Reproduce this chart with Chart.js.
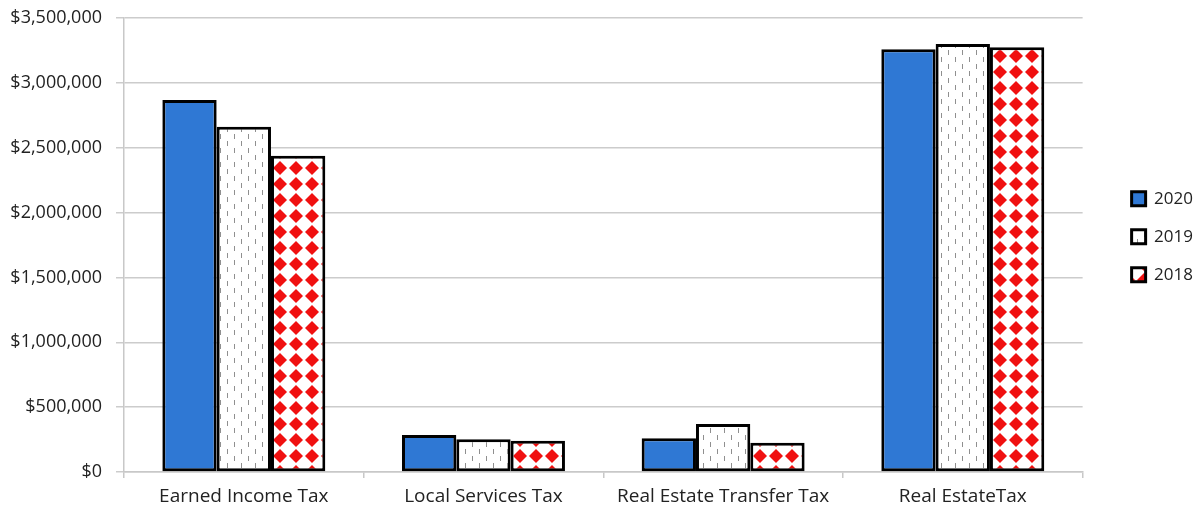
<!DOCTYPE html>
<html lang="en">
<head>
<meta charset="UTF-8">
<title>Tax Revenue</title>
<script src="https://cdn.jsdelivr.net/npm/chart.js"></script>
<style>
  body { margin: 0; background: #fff; }
</style>
</head>
<body>
<canvas id="taxChart" width="1204" height="511"></canvas>
<script>
// data
var categories = ['Earned Income Tax', 'Local Services Tax', 'Real Estate Transfer Tax', 'Real EstateTax'];
var years = ['2020', '2019', '2018'];
var values2020 = [2868000, 285000, 260000, 3259000];
var values2019 = [2662000, 252000, 370000, 3300000];
var values2018 = [2439000, 241000, 226000, 3274000];

// small tile patterns for the two hatched series
function makePattern(size, draw) {
    var c = document.createElement('canvas');
    c.width = size; c.height = size;
    var g = c.getContext('2d');
    g.fillStyle = '#fff';
    g.fillRect(0, 0, size, size);
    draw(g);
    return document.getElementById('taxChart').getContext('2d').createPattern(c, 'repeat');
}

var dashPattern = makePattern(14, function (g) {
    g.fillStyle = '#8f8f8f';
    g.fillRect(3, 1, 1, 5);
    g.fillRect(10, 8, 1, 5);
});

var diamondPattern = makePattern(16, function (g) {
    g.fillStyle = '#f01010';
    g.beginPath();
    g.moveTo(8, 1); g.lineTo(15, 8); g.lineTo(8, 15); g.lineTo(1, 8);
    g.closePath();
    g.fill();
});

var font = "'Open Sans', sans-serif";

var ctx = document.getElementById('taxChart').getContext('2d');
var taxChart = new Chart(ctx, {
    type: 'bar',
    data: {
        labels: categories,
        datasets: [{
            label: years[0],
            data: values2020,
            backgroundColor: '#2f78d4',
            borderColor: '#000',
            borderWidth: 3,
            borderSkipped: false
        }, {
            label: years[1],
            data: values2019,
            backgroundColor: dashPattern,
            borderColor: '#000',
            borderWidth: 3,
            borderSkipped: false
        }, {
            label: years[2],
            data: values2018,
            backgroundColor: diamondPattern,
            borderColor: '#000',
            borderWidth: 3,
            borderSkipped: false
        }]
    },
    options: {
        responsive: false,
        animation: false,
        barPercentage: 1,
        categoryPercentage: 0.68,
        layout: { padding: { top: 18, right: 1, left: 10, bottom: 3 } },
        plugins: {
            tooltip: { enabled: false },
            legend: {
                position: 'right',
                align: 'start',
                title: {
                    display: true,
                    text: ' ',
                    font: { size: 1 },
                    padding: { top: 150, bottom: 0 }
                },
                labels: {
                    boxWidth: 14,
                    boxHeight: 14,
                    padding: 21,
                    color: '#222',
                    font: { family: font, size: 17 }
                }
            }
        },
        scales: {
            x: {
                grid: {
                    drawOnChartArea: false,
                    drawTicks: true,
                    tickLength: 6,
                    color: '#c8c8c8',
                    lineWidth: 1.5
                },
                border: { color: '#c8c8c8', width: 1.5 },
                ticks: {
                    color: '#222',
                    padding: 7,
                    font: { family: font, size: 19 }
                },
                afterFit: function (s) { s.height = 36; }
            },
            y: {
                min: 0,
                max: 3500000,
                ticks: {
                    stepSize: 500000,
                    color: '#222',
                    padding: 14,
                    font: { family: font, size: 18 },
                    callback: function (v) { return '$' + v.toLocaleString('en-US'); }
                },
                grid: {
                    color: '#cccccc',
                    lineWidth: 1.5,
                    tickLength: 8
                },
                border: { color: '#c8c8c8', width: 1.5 },
                afterFit: function (s) {
                    s.width = 114;
                    s.paddingTop = 0;
                    s.paddingBottom = 0;
                }
            },
            // empty axis that only keeps a gap between the plot and the legend
            gap: {
                position: 'right',
                min: 0,
                max: 1,
                grid: { display: false },
                border: { display: false },
                ticks: { display: false },
                afterFit: function (s) { s.width = 28; }
            }
        }
    }
});
</script>
</body>
</html>
